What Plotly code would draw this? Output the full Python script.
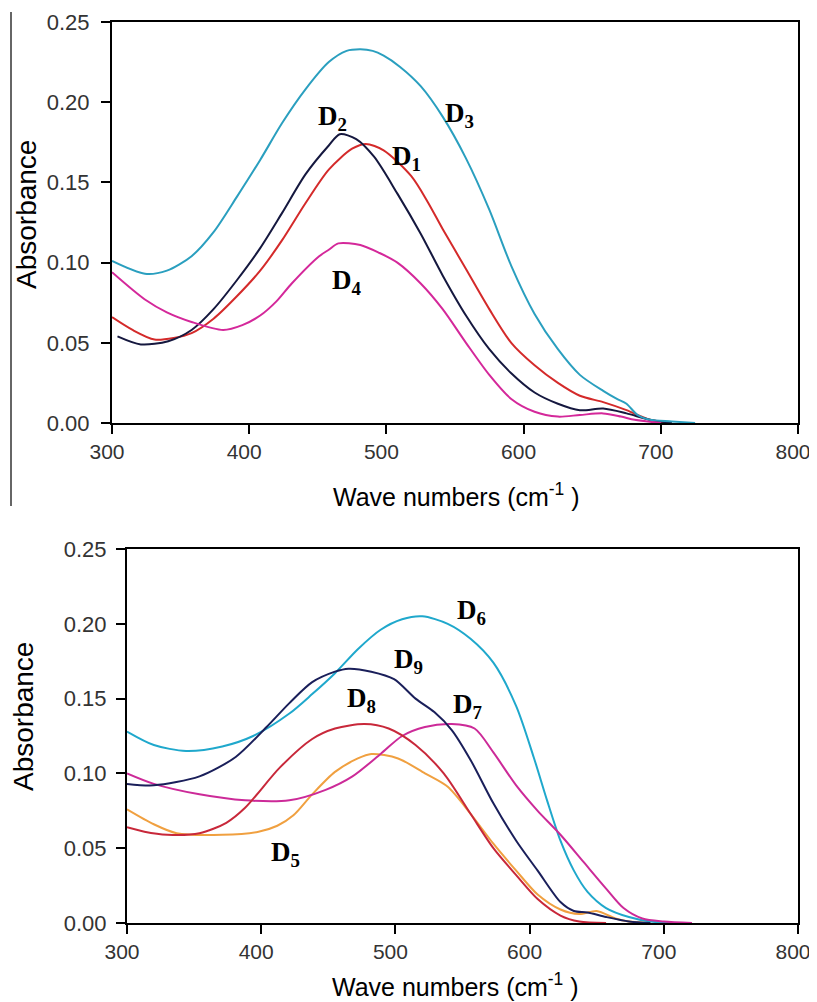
import plotly.graph_objects as go
from plotly.subplots import make_subplots

# ---- top panel (D1-D4) ----
d1_x = [300, 315, 331, 345, 358, 374, 391, 408, 424, 441, 458, 475, 485, 498, 518, 530, 541, 558, 575, 591, 608, 625, 641, 658, 675, 692, 708]
d1_y = [0.066, 0.058, 0.052, 0.053, 0.056, 0.065, 0.079, 0.095, 0.114, 0.137, 0.158, 0.171, 0.174, 0.170, 0.154, 0.138, 0.121, 0.096, 0.071, 0.050, 0.036, 0.025, 0.017, 0.013, 0.008, 0.002, 0.000]

d2_x = [304, 321, 341, 358, 374, 391, 408, 424, 441, 458, 466, 478, 491, 508, 525, 541, 558, 575, 591, 608, 625, 641, 658, 675, 692, 708]
d2_y = [0.054, 0.049, 0.051, 0.058, 0.071, 0.089, 0.109, 0.131, 0.155, 0.173, 0.180, 0.177, 0.166, 0.143, 0.118, 0.092, 0.067, 0.046, 0.031, 0.019, 0.012, 0.008, 0.009, 0.006, 0.002, 0.000]

d3_x = [300, 324, 340, 358, 374, 391, 408, 424, 441, 458, 471, 481, 490, 498, 510, 525, 541, 558, 575, 591, 608, 625, 641, 658, 668, 675, 683, 692, 708, 725]
d3_y = [0.101, 0.093, 0.095, 0.104, 0.119, 0.141, 0.164, 0.187, 0.208, 0.225, 0.232, 0.233, 0.232, 0.229, 0.222, 0.210, 0.191, 0.165, 0.133, 0.098, 0.068, 0.046, 0.030, 0.020, 0.015, 0.012, 0.005, 0.002, 0.001, 0.000]

d4_x = [300, 324, 340, 358, 381, 395, 408, 420, 431, 451, 458, 465, 481, 495, 508, 525, 541, 558, 575, 591, 608, 625, 641, 658, 671, 681, 700]
d4_y = [0.094, 0.077, 0.069, 0.063, 0.058, 0.061, 0.067, 0.076, 0.087, 0.104, 0.108, 0.112, 0.111, 0.106, 0.100, 0.087, 0.071, 0.050, 0.030, 0.015, 0.007, 0.004, 0.005, 0.006, 0.004, 0.002, 0.000]

# ---- bottom panel (D5-D9) ----
d5_x = [300, 320, 337, 371, 398, 412, 424, 438, 455, 472, 482, 502, 522, 539, 556, 573, 590, 606, 623, 637, 650, 664, 674, 690]
d5_y = [0.076, 0.066, 0.060, 0.059, 0.061, 0.065, 0.072, 0.086, 0.101, 0.110, 0.113, 0.110, 0.100, 0.091, 0.073, 0.053, 0.035, 0.019, 0.009, 0.006, 0.008, 0.003, 0.001, 0.000]

d6_x = [300, 320, 344, 371, 394, 421, 438, 455, 472, 489, 505, 520, 539, 556, 573, 590, 603, 613, 623, 633, 643, 657, 674, 690, 707]
d6_y = [0.128, 0.119, 0.115, 0.118, 0.125, 0.140, 0.153, 0.167, 0.183, 0.196, 0.203, 0.205, 0.200, 0.190, 0.174, 0.145, 0.111, 0.082, 0.055, 0.035, 0.021, 0.010, 0.004, 0.001, 0.000]

d7_x = [300, 320, 354, 388, 421, 448, 468, 489, 505, 522, 542, 559, 573, 590, 606, 623, 640, 657, 670, 684, 700, 721]
d7_y = [0.100, 0.093, 0.086, 0.082, 0.082, 0.089, 0.098, 0.113, 0.125, 0.131, 0.133, 0.130, 0.114, 0.092, 0.075, 0.059, 0.041, 0.023, 0.010, 0.003, 0.001, 0.000]

d8_x = [300, 313, 330, 354, 374, 388, 414, 438, 455, 477, 495, 515, 536, 556, 573, 590, 606, 623, 637, 657]
d8_y = [0.064, 0.061, 0.059, 0.060, 0.067, 0.077, 0.104, 0.123, 0.130, 0.133, 0.130, 0.119, 0.100, 0.073, 0.050, 0.032, 0.016, 0.005, 0.001, 0.000]

d9_x = [300, 320, 354, 381, 404, 421, 438, 455, 465, 482, 499, 515, 529, 542, 556, 573, 590, 606, 623, 633, 643, 657, 674, 690]
d9_y = [0.093, 0.092, 0.098, 0.111, 0.131, 0.147, 0.161, 0.168, 0.170, 0.168, 0.163, 0.150, 0.141, 0.129, 0.109, 0.080, 0.055, 0.035, 0.014, 0.008, 0.007, 0.004, 0.001, 0.000]

x_ticks = [300, 400, 500, 600, 700, 800]
y_ticks = [0.00, 0.05, 0.10, 0.15, 0.20, 0.25]

# page is 817x1002, the html body adds an 8px margin
W, H = 809, 994
OFF = 8


def px(v):
    return (v - OFF) / W


def py(v):
    return 1 - (v - OFF) / H


fig = make_subplots(rows=2, cols=1)

top = [(d1_x, d1_y, "#d42a2a"), (d2_x, d2_y, "#15183f"),
       (d3_x, d3_y, "#2a9fbf"), (d4_x, d4_y, "#d4289a")]
bottom = [(d5_x, d5_y, "#f0a040"), (d6_x, d6_y, "#1fa8cc"),
          (d7_x, d7_y, "#cc2a98"), (d8_x, d8_y, "#c8283a"),
          (d9_x, d9_y, "#1a1f5a")]

for xs, ys, c in top:
    fig.add_trace(go.Scatter(x=xs, y=ys, mode="lines",
                             line=dict(color=c, width=2, shape="spline", smoothing=0.8)),
                  row=1, col=1)
for xs, ys, c in bottom:
    fig.add_trace(go.Scatter(x=xs, y=ys, mode="lines",
                             line=dict(color=c, width=2, shape="spline", smoothing=0.8)),
                  row=2, col=1)

axis_common = dict(showline=True, linecolor="black", linewidth=2, mirror=True,
                   ticks="outside", ticklen=9, tickwidth=2, tickcolor="black",
                   showgrid=False, zeroline=False, automargin=False,
                   ticklabeloverflow="allow")

# small left shift keeps the "800" label inside the page edge
fig.update_xaxes(range=[300, 800], tickvals=x_ticks, ticklabelshift=-5,
                 tickfont=dict(family="Liberation Sans, Arial", size=21, color="#333"), **axis_common)
fig.update_yaxes(range=[0, 0.25], tickvals=y_ticks, tickformat=".2f",
                 tickfont=dict(family="Liberation Sans, Arial", size=22, color="#333"), **axis_common)

fig.update_layout(
    xaxis=dict(domain=[px(112), px(798)]),
    yaxis=dict(domain=[py(423), py(22)], ticklabelstandoff=7),
    xaxis2=dict(domain=[px(127), px(798)]),
    yaxis2=dict(domain=[py(923), py(549)], ticklabelstandoff=5),
)

labels = [
    ("x", "y", 553, 0.192, "3"),
    ("x", "y", 461, 0.190, "2"),
    ("x", "y", 515, 0.165, "1"),
    ("x", "y", 471, 0.088, "4"),
    ("x2", "y2", 557, 0.208, "6"),
    ("x2", "y2", 510, 0.175, "9"),
    ("x2", "y2", 475, 0.149, "8"),
    ("x2", "y2", 554, 0.145, "7"),
    ("x2", "y2", 418, 0.046, "5"),
]
annotations = []
for xr, yr, xv, yv, n in labels:
    annotations.append(dict(xref=xr, yref=yr, x=xv, y=yv, showarrow=False,
                            xanchor="center", yanchor="middle",
                            text="<b>D<sub>%s</sub></b>" % n,
                            font=dict(family="Liberation Serif, Times New Roman", size=27, color="black")))

titlefont = dict(family="Liberation Sans, Arial", size=25, color="black")
yfont = dict(family="Liberation Sans, Arial", size=28, color="black")
xt = "Wave numbers (cm<sup>-1</sup> )"
annotations += [
    dict(xref="paper", yref="paper", x=px(456), y=py(495), text=xt, showarrow=False,
         xanchor="center", yanchor="middle", font=titlefont),
    dict(xref="paper", yref="paper", x=px(455), y=py(985), text=xt, showarrow=False,
         xanchor="center", yanchor="middle", font=titlefont),
    dict(xref="paper", yref="paper", x=px(27), y=py(215), text="Absorbance", textangle=-90,
         showarrow=False, xanchor="center", yanchor="middle", font=yfont),
    dict(xref="paper", yref="paper", x=px(23), y=py(717), text="Absorbance", textangle=-90,
         showarrow=False, xanchor="center", yanchor="middle", font=yfont),
]

fig.update_layout(
    width=W, height=H,
    margin=dict(l=0, r=0, t=0, b=0),
    paper_bgcolor="white", plot_bgcolor="white",
    showlegend=False,
    annotations=annotations,
    shapes=[dict(type="line", xref="paper", yref="paper",
                 x0=px(11), x1=px(11), y0=py(12), y1=py(506),
                 line=dict(color="#333", width=1.5))],
)

fig.write_html("out.html")
